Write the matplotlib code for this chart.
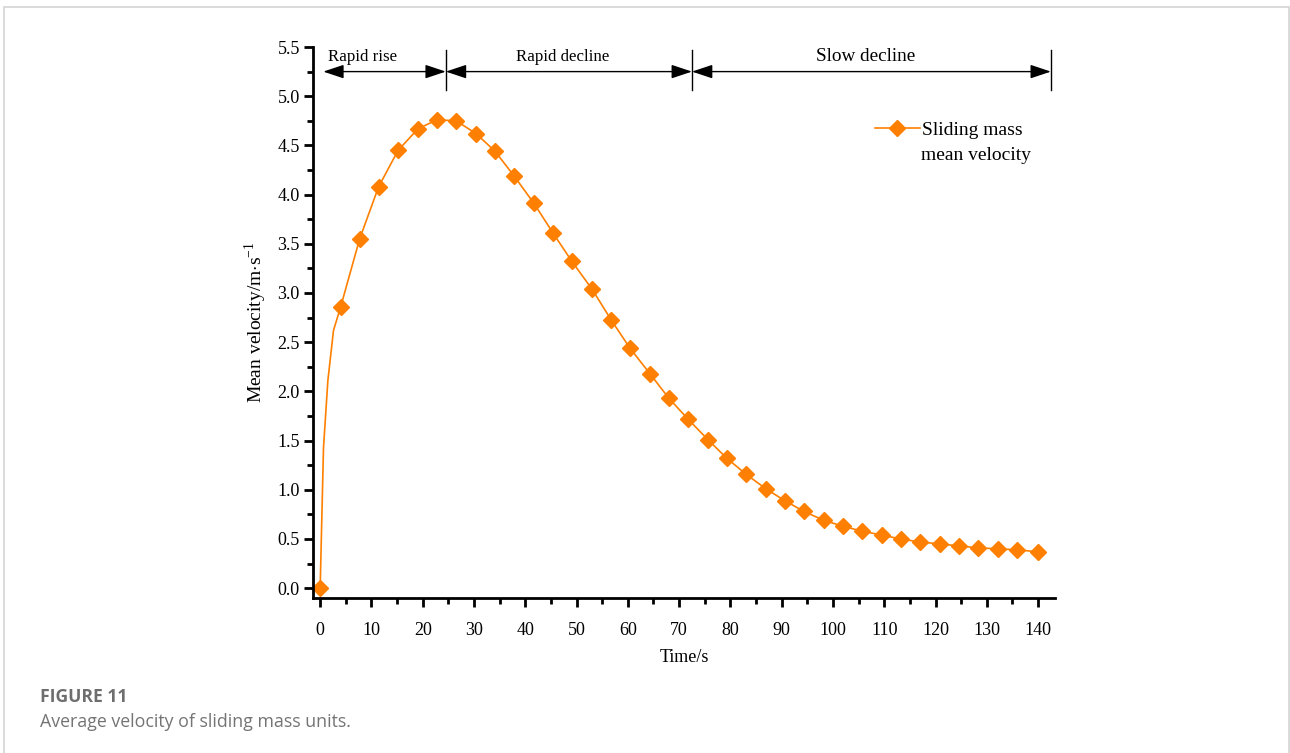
import matplotlib
matplotlib.use('Agg')
import matplotlib.pyplot as plt
from matplotlib.patches import Rectangle

# data
time_s = [0, 4.0, 7.7, 11.4, 15.2, 19.1, 22.8, 26.5, 30.4, 34.1, 37.8, 41.7, 45.4,
          49.1, 53.0, 56.7, 60.4, 64.3, 68.0, 71.7, 75.6, 79.3, 83.0, 86.9, 90.6,
          94.3, 98.2, 101.9, 105.6, 109.5, 113.2, 116.9, 120.8, 124.5, 128.2,
          132.1, 135.8, 139.9]
velocity = [0.0, 2.86, 3.55, 4.08, 4.45, 4.67, 4.76, 4.75, 4.62, 4.44, 4.19, 3.91,
            3.61, 3.32, 3.04, 2.73, 2.44, 2.18, 1.93, 1.72, 1.51, 1.32, 1.16, 1.01,
            0.89, 0.78, 0.69, 0.63, 0.58, 0.54, 0.50, 0.47, 0.45, 0.43, 0.41, 0.40,
            0.39, 0.37]
# extra points of the line (no markers) in the first seconds
early_t = [0.2, 0.65, 1.5, 2.6]
early_v = [0.45, 1.43, 2.11, 2.62]

stage_names = ['Rapid rise', 'Rapid decline', 'Slow decline']
stage_bounds = [0.6, 24.5, 72.5, 142.5]
stage_label_x = [8.2, 47.2, 106.4]

orange = '#FF8000'
plt.rcParams['font.family'] = ['Liberation Serif', 'DejaVu Serif']
plt.rcParams['mathtext.fontset'] = 'custom'
plt.rcParams['mathtext.rm'] = 'Liberation Serif'

fig = plt.figure(figsize=(12.9, 7.53), dpi=100, facecolor='white')

# light frame round the figure panel
fig.patches.append(Rectangle((4 / 1290, -0.01), 1284.5 / 1290, (753 - 7) / 753 + 0.01,
                             transform=fig.transFigure, fill=False,
                             edgecolor='#d4d4d4', linewidth=1.2))

ax = fig.add_axes([313 / 1290, 1 - 598 / 753, (1055 - 313) / 1290, (598 - 47) / 753])

line_t = [time_s[0]] + early_t + time_s[1:]
line_v = [velocity[0]] + early_v + velocity[1:]
ax.plot(line_t, line_v, '-', color=orange, linewidth=1.2)
ax.plot(time_s, velocity, 'D', color=orange, markersize=8.6, linestyle='none')
# legend proxy
ax.plot([], [], '-D', color=orange, markersize=8.6, linewidth=1.2,
        label='Sliding mass')

ax.set_xlim(-1.4, 143.3)
ax.set_ylim(-0.1, 5.5)
ax.set_xticks(range(0, 141, 10))
ax.set_xticks(range(5, 141, 10), minor=True)
ax.set_yticks([i * 0.5 for i in range(12)])
ax.set_yticks([0.25 + i * 0.5 for i in range(11)], minor=True)
ax.set_yticklabels(['%.1f' % (i * 0.5) for i in range(12)])

for s in ['top', 'right']:
    ax.spines[s].set_visible(False)
for s in ['left', 'bottom']:
    ax.spines[s].set_linewidth(2)

ax.tick_params(which='major', direction='out', length=6.5, width=2, labelsize=13)
ax.tick_params(which='minor', direction='out', length=4.5, width=2)
ax.tick_params(axis='x', which='major', pad=11)
ax.tick_params(axis='y', which='major', pad=3)

ax.set_xlabel('Time/s', fontsize=13, labelpad=7)
ax.set_ylabel('Mean velocity/m$\\cdot$s$^{-1}$', fontsize=14, labelpad=6)

# stage annotations
for k in range(3):
    ax.annotate('', xy=(stage_bounds[k], 5.25), xytext=(stage_bounds[k + 1], 5.25),
                arrowprops=dict(arrowstyle='<|-|>,head_length=0.9,head_width=0.3',
                                color='black', lw=1.0, shrinkA=0, shrinkB=0,
                                mutation_scale=14),
                annotation_clip=False)
    fs = 13.8 if k == 2 else 12.2
    ax.text(stage_label_x[k], 5.40, stage_names[k], ha='center', va='center',
            fontsize=fs, clip_on=False)
for b in stage_bounds[1:]:
    ax.plot([b, b], [5.06, 5.47], color='black', linewidth=1.0, clip_on=False)

# legend: handle sits level with the first line of the label
leg = ax.legend(loc='upper left', bbox_to_anchor=(875 / 1290, 1 - 121 / 753),
                bbox_transform=fig.transFigure, frameon=False, fontsize=14,
                handlelength=2.3, handletextpad=0.1, borderaxespad=0, borderpad=0)
fig.text(921 / 1290, 1 - 155 / 753, 'mean velocity', fontsize=14, va='center')

fig.text(40 / 1290, 1 - 697 / 753, 'FIGURE 11', fontsize=12.6, fontweight='bold',
         color='#6e6e6e', family=['Open Sans', 'DejaVu Sans'], va='center')
fig.text(40 / 1290, 1 - 722 / 753, 'Average velocity of sliding mass units.',
         fontsize=12.8, color='#747474', family=['Open Sans', 'DejaVu Sans'], va='center')

fig.savefig('out.png', dpi=100, facecolor='white')
